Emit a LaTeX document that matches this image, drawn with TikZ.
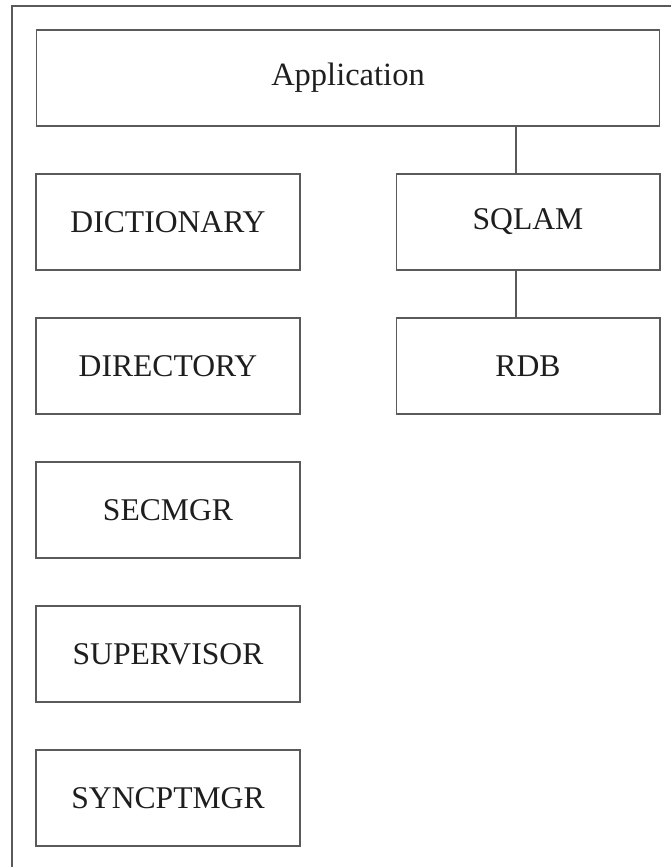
\documentclass[tikz,border=0pt]{standalone}
\usepackage{fontspec}
\setmainfont{Liberation Serif}
\usepackage{xcolor}
\definecolor{framegray}{RGB}{90,90,90}
\definecolor{textgray}{RGB}{30,30,30}

\begin{document}
\begin{tikzpicture}[x=0.02cm,y=-0.02cm,
  modbox/.style={draw=framegray,line width=0.6pt,rectangle,minimum height=1.92cm,
    text=textgray,font=\fontsize{18}{21}\selectfont,inner sep=0pt},
  leftbox/.style={modbox,minimum width=5.28cm},
  link/.style={draw=framegray,line width=0.6pt}]
\useasboundingbox (0,0) rectangle (671,867);

% Outer frame (only top and left edges show)
\draw[link] (12,867) -- (12,6) -- (671,6);

% Application layer
\node[modbox,minimum width=12.48cm,font=\fontsize{18.5}{21}\selectfont] (app) at (348,78) {Application};

% Left column of modules
\node[leftbox] (dict) at (168,222) {DICTIONARY};
\node[leftbox] (dir) at (168,366) {DIRECTORY};
\node[leftbox] (secmgr) at (168,510) {SECMGR};
\node[leftbox] (super) at (168,654) {SUPERVISOR};
\node[leftbox] (syncpt) at (168,798) {SYNCPTMGR};

% Right column: access path down to the database
\node[leftbox] (sqlam) at (528,222) {SQLAM};
\node[leftbox] (rdb) at (528,366) {RDB};

% Connection lines
\coordinate (tap) at (516,0);
\draw[link] (tap |- app.south) -- (tap |- sqlam.north);
\draw[link] (tap |- sqlam.south) -- (tap |- rdb.north);
\end{tikzpicture}
\end{document}
